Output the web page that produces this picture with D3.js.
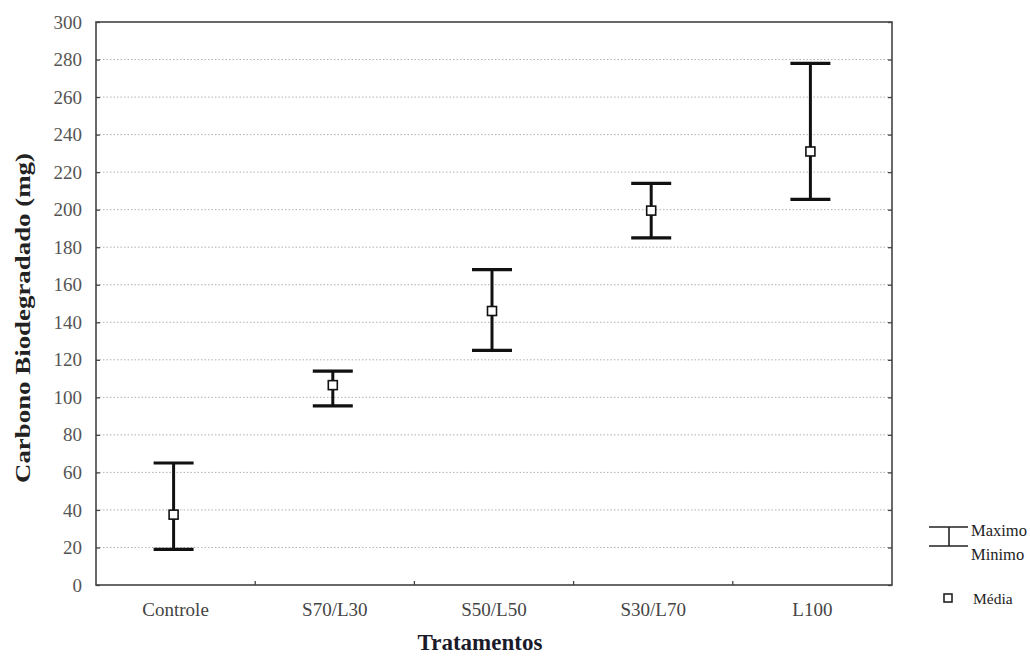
<!DOCTYPE html>
<html><head><meta charset="utf-8">
<script src="https://cdn.jsdelivr.net/npm/d3@7"></script>
<style>body{margin:0;background:#fff}svg{display:block}</style>
</head><body>
<svg id="c" width="1030" height="659"></svg>
<script>
const categories = ["Controle","S70/L30","S50/L50","S30/L70","L100"];
const maxValues  = [65, 114, 168, 214, 278];
const meanValues = [37.5, 106.5, 146, 199.5, 231];
const minValues  = [19, 95.5, 125, 185, 205.5];
const yTicks = [0,20,40,60,80,100,120,140,160,180,200,220,240,260,280,300];

const svg = d3.select("#c");
const m = {left:96, right:892, top:22, bottom:585};
const x = d3.scaleBand().domain(categories).range([m.left,m.right]);
const y = d3.scaleLinear().domain([0,300]).range([m.bottom,m.top]);
const serif = "'Liberation Serif','Times New Roman',serif";

// gridlines
svg.append("g").selectAll("line").data(yTicks.filter(d=>d>0&&d<300)).join("line")
  .attr("x1",m.left).attr("x2",m.right).attr("y1",d=>y(d)).attr("y2",d=>y(d))
  .attr("stroke","#b0b0b0").attr("stroke-width",1).attr("stroke-dasharray","1.5,2");

// left axis
const ga = svg.append("g").attr("transform",`translate(${m.left},0)`)
  .call(d3.axisLeft(y).tickValues(yTicks).tickSize(-4).tickPadding(14));
ga.select(".domain").remove();
ga.selectAll("line").attr("stroke","#444").attr("stroke-width",1.3);
ga.selectAll("text").attr("font-family",serif).attr("font-size",19).attr("fill","#555");

// right ticks
svg.append("g").attr("transform",`translate(${m.right},0)`)
  .call(d3.axisRight(y).tickValues(yTicks).tickSize(-4).tickFormat(""))
  .call(g=>{g.select(".domain").remove();g.selectAll("line").attr("stroke","#444").attr("stroke-width",1.3);});

// bottom boundary ticks
svg.append("g").selectAll("line").data(categories.slice(1)).join("line")
  .attr("x1",d=>x(d)).attr("x2",d=>x(d)).attr("y1",m.bottom).attr("y2",m.bottom-4)
  .attr("stroke","#444").attr("stroke-width",1.3);

// category labels
svg.append("g").selectAll("text").data(categories).join("text")
  .attr("x",d=>x(d)+x.bandwidth()/2).attr("y",m.bottom+31)
  .attr("text-anchor","middle").attr("font-family",serif).attr("font-size",19).attr("fill","#444")
  .text(d=>d);

// frame
svg.append("rect").attr("x",m.left).attr("y",m.top).attr("width",m.right-m.left).attr("height",m.bottom-m.top)
  .attr("fill","none").attr("stroke","#444").attr("stroke-width",1.6);

// error bars
const capW = 40;
const eb = svg.append("g").selectAll("g").data(categories).join("g")
  .attr("transform",d=>`translate(${x(d)+x.bandwidth()/2-2},0)`);
eb.append("line").attr("x1",0).attr("x2",0).attr("y1",(d,i)=>y(maxValues[i])).attr("y2",(d,i)=>y(minValues[i]))
  .attr("stroke","#111").attr("stroke-width",3);
eb.append("line").attr("x1",-capW/2).attr("x2",capW/2).attr("y1",(d,i)=>y(maxValues[i])).attr("y2",(d,i)=>y(maxValues[i]))
  .attr("stroke","#111").attr("stroke-width",3.2);
eb.append("line").attr("x1",-capW/2).attr("x2",capW/2).attr("y1",(d,i)=>y(minValues[i])).attr("y2",(d,i)=>y(minValues[i]))
  .attr("stroke","#111").attr("stroke-width",3.2);
eb.append("rect").attr("x",-4.5).attr("y",(d,i)=>y(meanValues[i])-4.5).attr("width",9).attr("height",9)
  .attr("fill","#fff").attr("stroke","#111").attr("stroke-width",1.6);

// axis titles
svg.append("text").attr("transform",`translate(30,318) rotate(-90)`)
  .attr("text-anchor","middle").attr("font-family",serif).attr("font-weight","bold").attr("font-size",22)
  .attr("fill","#222").attr("textLength",330).attr("lengthAdjust","spacingAndGlyphs")
  .text("Carbono Biodegradado (mg)");
svg.append("text").attr("x",480).attr("y",650)
  .attr("text-anchor","middle").attr("font-family",serif).attr("font-weight","bold").attr("font-size",23)
  .attr("fill","#1a1a2a").text("Tratamentos");

// legend
const lg = svg.append("g");
lg.append("line").attr("x1",929).attr("x2",968).attr("y1",527).attr("y2",527).attr("stroke","#222").attr("stroke-width",1.6);
lg.append("line").attr("x1",929).attr("x2",968).attr("y1",546).attr("y2",546).attr("stroke","#222").attr("stroke-width",1.6);
lg.append("line").attr("x1",949).attr("x2",949).attr("y1",527).attr("y2",546).attr("stroke","#222").attr("stroke-width",1.6);
lg.append("text").attr("x",971).attr("y",536).attr("font-family",serif).attr("font-size",16.5).attr("fill","#222").text("Maximo");
lg.append("text").attr("x",971).attr("y",560).attr("font-family",serif).attr("font-size",16.5).attr("fill","#222").text("Minimo");
lg.append("rect").attr("x",944).attr("y",594).attr("width",8).attr("height",8).attr("fill","#fff").attr("stroke","#222").attr("stroke-width",1.6);
lg.append("text").attr("x",973).attr("y",604).attr("font-family",serif).attr("font-size",15.5).attr("fill","#222").text("Média");
</script>
</body></html>
